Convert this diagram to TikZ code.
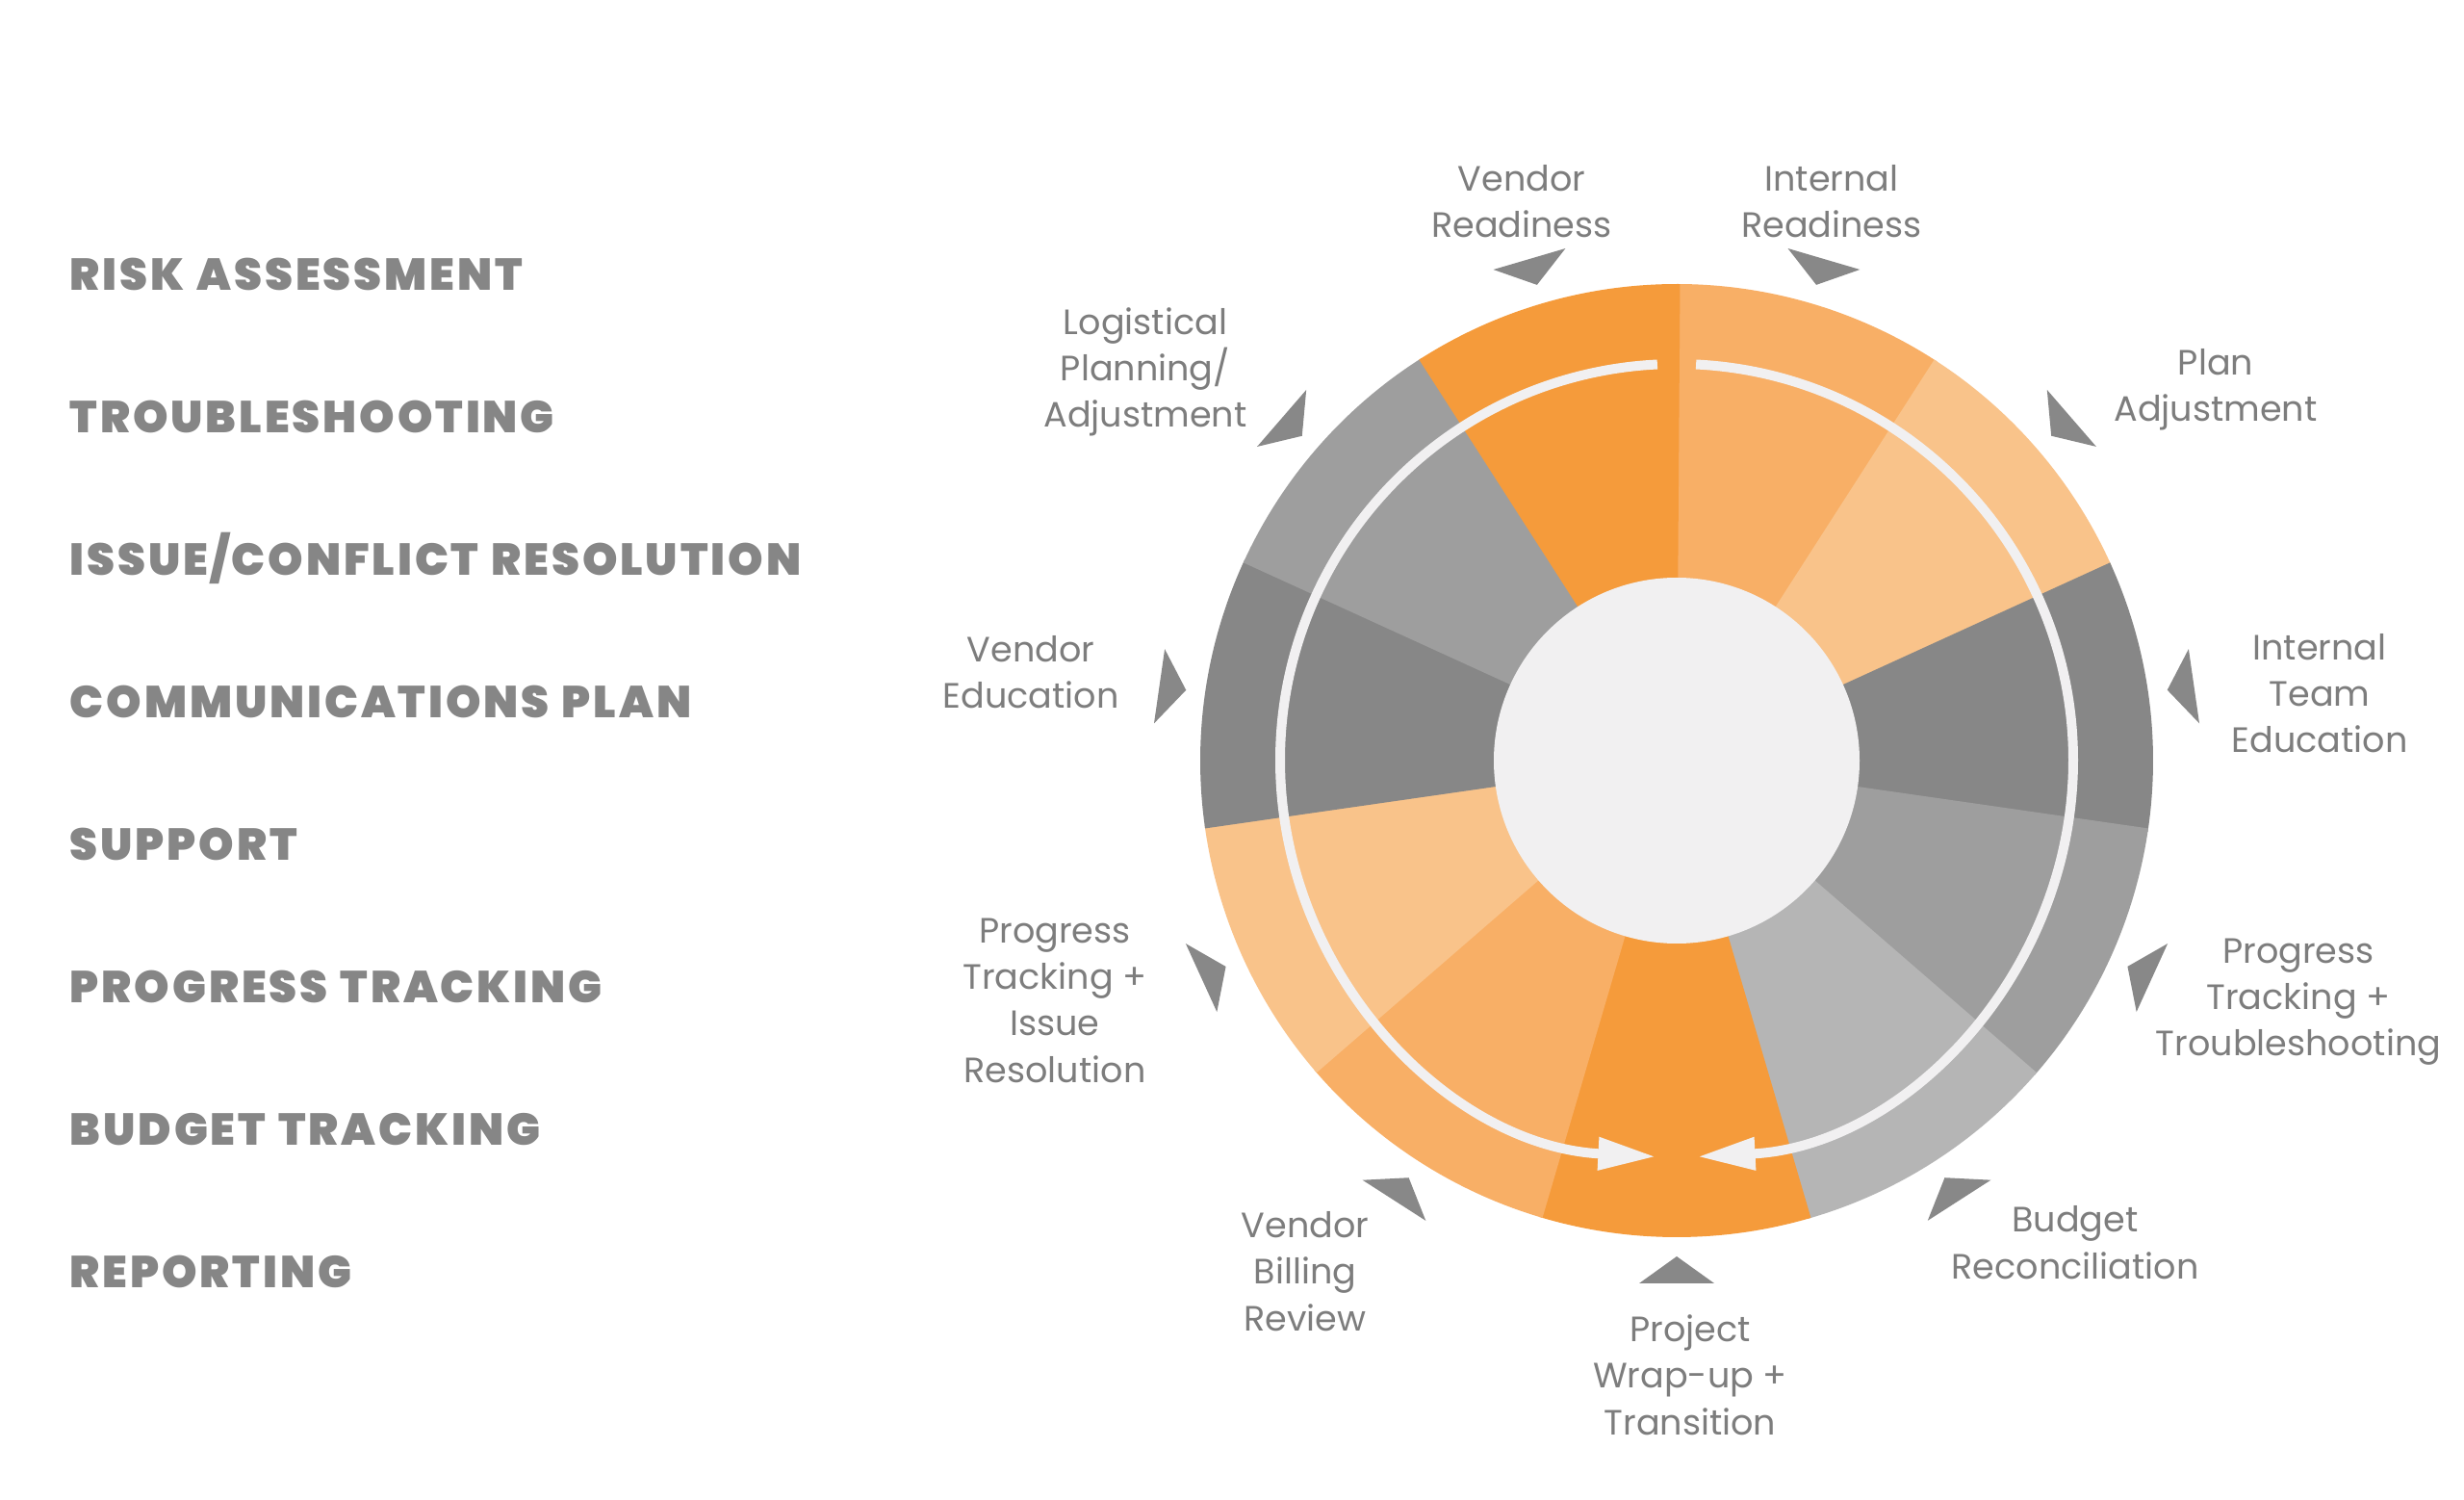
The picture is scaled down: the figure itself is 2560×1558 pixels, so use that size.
\documentclass[tikz,border=0pt]{standalone}
\usepackage{fontspec}
\setmainfont{Poppins}
\newfontfamily\headfont{Poppins Black}[LetterSpace=6.3, WordSpace=1.2]
\usetikzlibrary{arrows.meta}
\definecolor{orangeA}{HTML}{F59B3B}
\definecolor{orangeB}{HTML}{F8AF66}
\definecolor{orangeC}{HTML}{F9C38A}
\definecolor{grayA}{HTML}{878787}
\definecolor{grayB}{HTML}{9E9E9E}
\definecolor{grayC}{HTML}{B5B5B5}
\definecolor{hub}{HTML}{F1F0F1}
\definecolor{txtgray}{HTML}{7D7D7D}
\definecolor{headgray}{HTML}{868686}
\definecolor{markgray}{HTML}{888888}
\begin{document}
\begin{tikzpicture}[x=0.1mm, y=-0.1mm,
    lbl/.style={text=txtgray, align=center, anchor=base, inner sep=0pt, font=\fontsize{10.4}{13.7}\selectfont},
    head/.style={text=headgray, anchor=base west, inner sep=0pt, font=\headfont\fontsize{13.2}{16}\selectfont},
    ring/.style={draw=hub, line width=1mm, -{Triangle[length=6mm, width=3.2mm]}}]
  \fill[white] (0,0) rectangle (2560,1558);
  \useasboundingbox (0,0) rectangle (2560,1558);

  % left column
  \foreach \t [count=\i from 0] in {RISK ASSESSMENT, TROUBLESHOOTING, ISSUE/CONFLICT RESOLUTION, COMMUNICATIONS PLAN, SUPPORT, PROGRESS TRACKING, BUDGET TRACKING, REPORTING}
    \node[head] at (72, 301.5+148*\i) (h\i) {\t};

  % wheel
  \coordinate (c) at (1742,790);
  \begin{scope}[shift={(c)}, yscale=-1]
    \foreach \col [count=\i from 0] in {orangeB, orangeC, grayA, grayB, grayC, orangeA, orangeB, orangeC, grayA, grayB, orangeA}
      \fill[\col] (0,0) -- ({90-\i*360/11}:495) arc[start angle={90-\i*360/11}, delta angle={-360/11-0.4}, radius=495] -- cycle;
    \fill[hub] (0,0) circle[radius=190];
    \draw[ring] (92.8:412) arc[start angle=92.8, end angle=267, radius=412];
    \draw[ring] (87.2:412) arc[start angle=87.2, end angle=-87, radius=412];
    % pointers
    \foreach \i in {0,...,10}
      \fill[markgray] ({73.64-\i*360/11}:515) -- ({77.75-\i*360/11}:544.4) -- ({69.53-\i*360/11}:544.4) -- cycle;
  \end{scope}

  % labels (anchored at the last line)
  \node[lbl] at (1581,247) (vr) {Vendor\\Readiness};
  \node[lbl] at (1903,247) (ir) {Internal\\Readiness};
  \node[lbl] at (2302,438) (pa) {Plan\\Adjustment};
  \node[lbl] at (2410,782) (ite) {Internal\\Team\\Education};
  \node[lbl] at (2388,1097) (ptt) {Progress\\Tracking +\\Troubleshooting};
  \node[lbl] at (2156,1328) (br) {Budget\\Reconciliation};
  \node[lbl] at (1756,1490) (pwt) {Project\\Wrap-up +\\Transition};
  \node[lbl] at (1356,1382) (vbr) {Vendor\\Billing\\Review};
  \node[lbl] at (1096,1124) (pti) {Progress\\Tracking +\\Issue\\Resolution};
  \node[lbl] at (1071,736) (ve) {Vendor\\Education};
  \node[lbl] at (1190,444) (lpa) {Logistical\\Planning/\\Adjustment};
\end{tikzpicture}
\end{document}
